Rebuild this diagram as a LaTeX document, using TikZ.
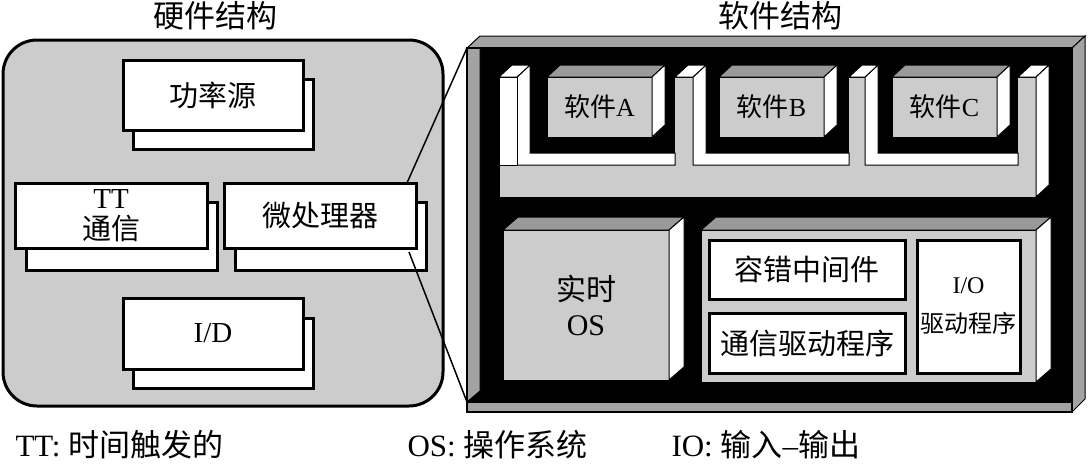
\documentclass[tikz,border=0pt]{standalone}
\usepackage{fontspec}
\setmainfont{Liberation Serif}
\newfontfamily\zhfont{Noto Sans CJK SC}
\newcommand{\zh}[1]{{\zhfont #1}}
\usepackage{tikz}
\usetikzlibrary{calc}
\definecolor{panelgray}{gray}{0.80}
\definecolor{facegray}{gray}{0.60}
\definecolor{stripgray}{gray}{0.64}
\tikzset{
  hwpanel/.style={draw, line width=3pt, fill=panelgray, rounded corners=34pt, outer sep=0pt},
  hwcard/.style={draw, line width=3pt, fill=white, inner sep=0pt, outer sep=0pt, align=center,
                 font=\fontsize{29}{31}\selectfont},
  swfront/.style={draw, line width=1pt, fill=panelgray, inner sep=0pt, outer sep=0pt,
                  align=center, font=\fontsize{26}{28}\selectfont},
  topface/.style={draw, line width=1pt, fill=facegray},
  sideface/.style={draw, line width=1pt, fill=white},
  stripface/.style={draw, line width=1pt, fill=stripgray},
  modbox/.style={draw, line width=3pt, fill=white, inner sep=0pt, outer sep=0pt, align=center,
                 font=\fontsize{29}{31}\selectfont},
  heading/.style={font=\fontsize{31}{33}\selectfont},
  legend/.style={anchor=west, font=\fontsize{31}{33}\selectfont},
  zoomline/.style={line width=1.5pt}
}

\begin{document}
\begin{tikzpicture}[x=1pt, y=-1pt]
  \useasboundingbox (0,0) rectangle (1088,464);

  % hardware side
  \node[heading] (hwtitle) at (215,16) {\zh{硬件结构}};
  \node[hwpanel, minimum width=440pt, minimum height=366pt] (hw) at (223,223) {};
  \node[hwcard, minimum width=180pt, minimum height=70pt] (pwrback) at (223,114.5) {};
  \node[hwcard, minimum width=180pt, minimum height=70pt] (pwr) at (213,95) {\zh{功率源}};
  \node[hwcard, minimum width=191pt, minimum height=68pt] (ttback) at (121.5,236) {};
  \node[hwcard, minimum width=192pt, minimum height=65pt] (tt) at (111,215.5) {TT\\\zh{通信}};
  \node[hwcard, minimum width=191pt, minimum height=68pt] (cpuback) at (330.5,236) {};
  \node[hwcard, minimum width=192pt, minimum height=65pt] (cpu) at (320,215.5) {\zh{微处理器}};
  \node[hwcard, minimum width=180pt, minimum height=70pt] (ioback) at (223,353) {};
  \node[hwcard, minimum width=180pt, minimum height=71pt] (io) at (213,333.5) {I/D};

  % software frame
  \node[heading] (swtitle) at (780,16) {\zh{软件结构}};
  \coordinate (frameTL) at (467,48);
  \coordinate (frameBL) at (467,402);
  \fill[black] (467,48) rectangle (1072,412);
  \draw[stripface] (frameTL) -- ++(13,-12) -- (1085,36) -- (1072,48) -- cycle;
  \draw[stripface] (1072,48) -- (1085,36) -- (1085,399) -- (1072,412) -- cycle;
  \draw[stripface] (frameTL) -- (480,48) -- (480,391) -- (frameBL) -- cycle;
  \draw[stripface] (frameBL) -- (1072,402) -- (1072,412) -- (467,412) -- cycle;
  \draw[line width=2pt] (467,48) rectangle (1072,412);

  % application layer with three slots
  \draw[line width=1pt, fill=panelgray] (499,77) rectangle (1036,197);
  \foreach \l/\r in {517/675, 693/849, 865/1018} {
    \fill[black] (\l,77) rectangle (\r,165);
    \draw[sideface] (\l,77) -- ++(13,-12) -- ++(0,88) -- (\r,153) -- (\r,165) -- (\l,165) -- cycle;
  }
  \foreach \a/\b in {499/517, 675/693, 849/865, 1018/1036}
    \draw[sideface] (\a,77) -- ++(13,-12) -- (\b+13,65) -- (\b,77) -- cycle;
  \draw[sideface] (499,77) rectangle (517,165);
  \draw[sideface] (1036,77) -- (1049,65) -- (1049,185) -- (1036,197) -- cycle;

  \node[swfront, minimum width=105pt, minimum height=60pt] (swA) at (599.5,107) {\zh{软件}A};
  \node[swfront, minimum width=105pt, minimum height=60pt] (swB) at (771.5,107) {\zh{软件}B};
  \node[swfront, minimum width=105pt, minimum height=60pt] (swC) at (944.5,107) {\zh{软件}C};
  \foreach \b in {swA, swB, swC} {
    \draw[topface] (\b.north west) -- ++(13,-12) -- ++(105,0) -- (\b.north east) -- cycle;
    \draw[sideface] (\b.north east) -- ++(13,-12) -- ++(0,60) -- (\b.south east) -- cycle;
  }

  % operating system and middleware
  \node[swfront, minimum width=166pt, minimum height=150pt, font=\fontsize{30}{35}\selectfont]
    (rtos) at (586,305) {\zh{实时}\\OS};
  \node[swfront, minimum width=335pt, minimum height=152pt] (mid) at (868.5,306) {};
  \foreach \b/\w/\h in {rtos/166/150, mid/335/152} {
    \draw[topface] (\b.north west) -- ++(15,-13) -- ++(\w,0) -- (\b.north east) -- cycle;
    \draw[sideface] (\b.north east) -- ++(15,-13) -- ++(0,\h) -- (\b.south east) -- cycle;
  }
  \node[modbox, minimum width=196pt, minimum height=59pt] (ftmw) at (807,269.5) {\zh{容错中间件}};
  \node[modbox, minimum width=196pt, minimum height=60pt] (comdrv) at (807,343) {\zh{通信驱动程序}};
  \node[modbox, minimum width=103pt, minimum height=133pt, font=\fontsize{24}{39}\selectfont]
    (iodrv) at (968.5,306.5) {I/O\\\zh{驱动程序}};

  \draw[zoomline] ([xshift=-9pt]cpu.north east) -- (frameTL);
  \draw[zoomline] ([xshift=-7pt, yshift=-4pt]cpu.south east) -- (frameBL);

  % legend
  \node[legend] (lgtt) at (12,445) {TT: \zh{时间触发的}};
  \node[legend] (lgos) at (404,445) {OS: \zh{操作系统}};
  \node[legend] (lgio) at (668,445) {IO: \zh{输入}--\zh{输出}};
\end{tikzpicture}
\end{document}
